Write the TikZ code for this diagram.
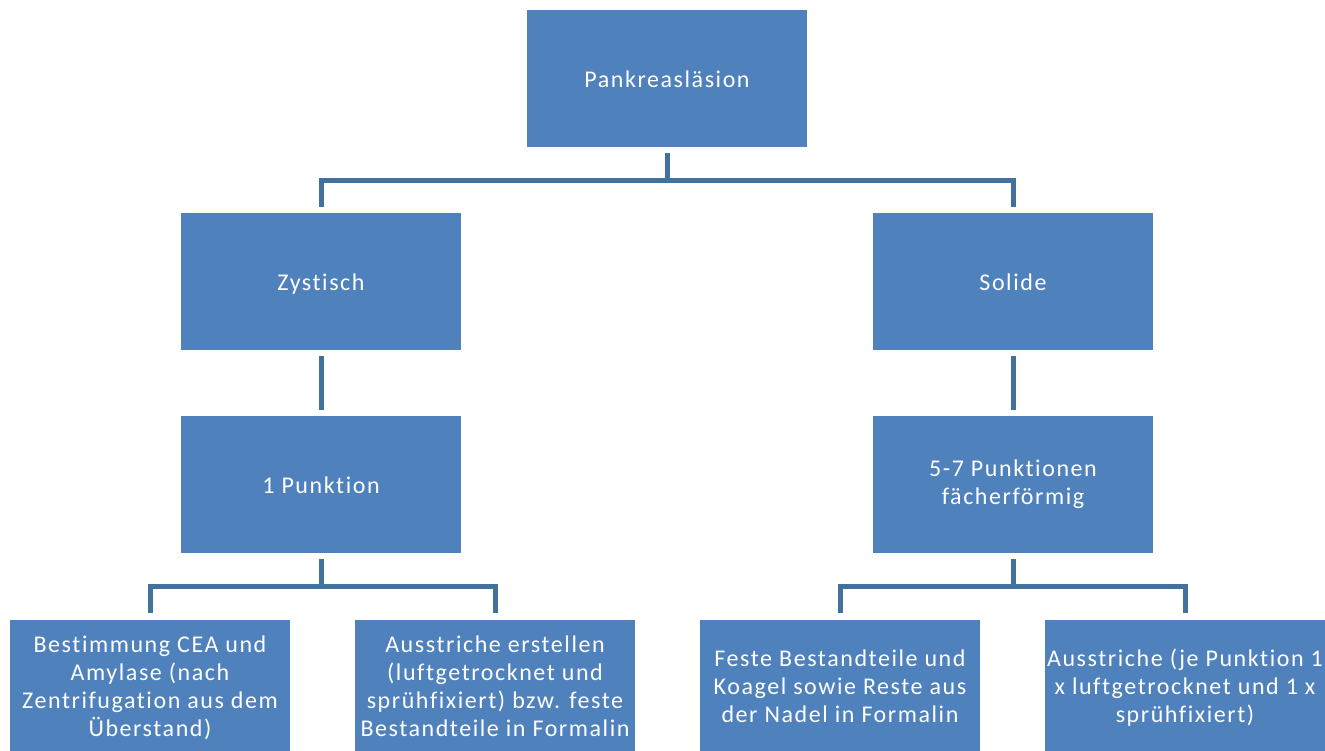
\documentclass[tikz,border=0pt]{standalone}
\usepackage{fontspec}
\setmainfont{Carlito}[LetterSpace=6.5,Ligatures={NoCommon}]
\definecolor{boxblue}{HTML}{4F81BD}
\definecolor{linkblue}{HTML}{41719C}
\newcommand{\mystrut}{\vrule width 0pt height 22.6pt depth 5.4pt\relax}
\begin{document}
\begin{tikzpicture}[x=1pt,y=-1pt,
  box/.style={fill=boxblue, draw=none, minimum width=280pt, minimum height=137pt,
    text=white, align=center, font=\fontsize{24}{28}\selectfont, inner sep=0pt,
    execute at begin node=\mystrut, execute at end node=\mystrut},
  link/.style={draw=linkblue, line width=5pt}]
\useasboundingbox (0,0) rectangle (1325,751);
\node[box] (p) at (667,78.5) {Pankreasläsion};
\node[box] (z) at (321,281.5) {Zystisch};
\node[box] (s) at (1013,281.5) {Solide};
\node[box] (z1) at (321,484.5) {1 Punktion};
\node[box] (s1) at (1013,484.5) {5-7 Punktionen\\fächerförmig};
\node[box] (a) at (150,688.5) {Bestimmung CEA und\\Amylase (nach\\Zentrifugation aus dem\\Überstand)};
\node[box] (b) at (495,688.5) {Ausstriche erstellen\\(luftgetrocknet und\\sprühfixiert) bzw. feste\\Bestandteile in Formalin};
\node[box] (c) at (840,688.5) {Feste Bestandteile und\\Koagel sowie Reste aus\\der Nadel in Formalin};
\node[box] (d) at (1185,688.5) {Ausstriche (je Punktion 1\\x luftgetrocknet und 1 x\\sprühfixiert)};
% top split
\draw[link] ([yshift=-6pt]p.south) -- ++(0,27) coordinate (j1);
\draw[link] ([yshift=6pt]z.north) |- (j1) -| ([yshift=6pt]s.north);
% singles
\draw[link] ([yshift=-6pt]z.south) -- ([yshift=6pt]z1.north);
\draw[link] ([yshift=-6pt]s.south) -- ([yshift=6pt]s1.north);
% bottom splits
\draw[link] ([yshift=-6pt]z1.south) -- ++(0,27) coordinate (j2);
\draw[link] ([yshift=7pt]a.north) |- (j2) -| ([yshift=7pt]b.north);
\draw[link] ([yshift=-6pt]s1.south) -- ++(0,27) coordinate (j3);
\draw[link] ([yshift=7pt]c.north) |- (j3) -| ([yshift=7pt]d.north);
\end{tikzpicture}
\end{document}
